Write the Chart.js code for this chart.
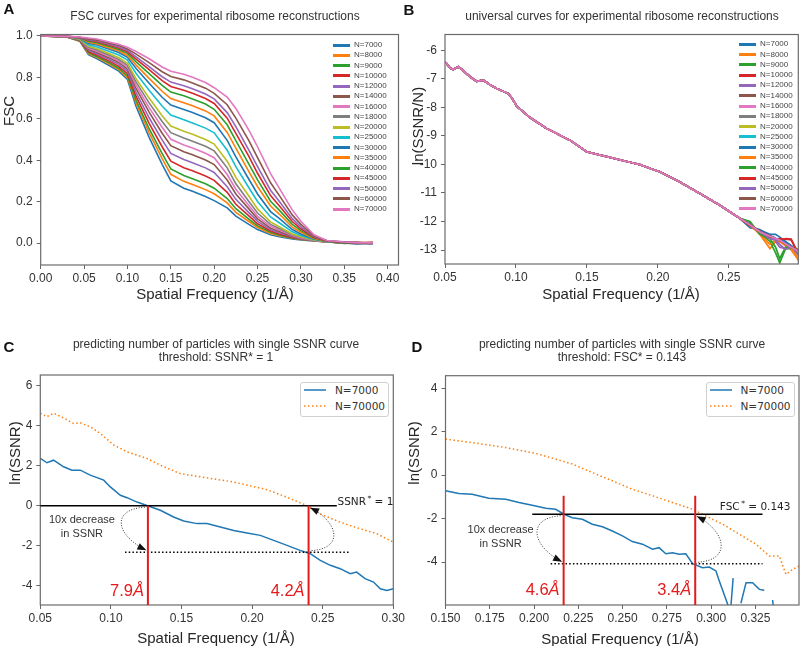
<!DOCTYPE html>
<html lang="en">
<head>
<meta charset="UTF-8">
<title>Ribosome FSC / SSNR curves</title>
<script src="https://cdn.jsdelivr.net/npm/chart.js"></script>
<style>
    body {
        margin: 0;
        width: 800px;
        height: 646px;
        position: relative;
        overflow: hidden;
        background: #fff;
        font-family: 'Liberation Sans', Arial, sans-serif;
        color: #262626;
    }
    canvas { position: absolute; left: 0; top: 0; }
    .t { position: absolute; white-space: nowrap; line-height: 1; transform: translate(-50%, -50%); }
    .title { font-size: 12px; color: #333; }
    .axt { font-size: 15px; }
    .rot { transform: translate(-50%, -50%) rotate(-90deg); }
    .letter { font-size: 15px; font-weight: bold; color: #111; }
    .lg { position: absolute; font-size: 8px; color: #444; line-height: 10px; white-space: nowrap; }
    .box { position: absolute; border: 1px solid #d0d0d0; border-radius: 3px; background: #fff; }
    .lg2 { position: absolute; font-family: 'DejaVu Sans', sans-serif; font-size: 10.5px; color: #333; line-height: 12px; white-space: nowrap; }
</style>
</head>
<body>
<canvas id="chartA" width="800" height="646"></canvas>
<canvas id="chartB" width="800" height="646"></canvas>
<canvas id="chartC" width="800" height="646"></canvas>
<canvas id="chartD" width="800" height="646"></canvas>

<div class="t letter" style="left:9px;top:8px">A</div>
<div class="t letter" style="left:409px;top:9px">B</div>
<div class="t letter" style="left:9px;top:346px">C</div>
<div class="t letter" style="left:417px;top:346px">D</div>

<div class="t title" style="left:215px;top:16px">FSC curves for experimental ribosome reconstructions</div>
<div class="t title" style="left:622px;top:16px">universal curves for experimental ribosome reconstructions</div>
<div class="t title" style="left:216px;top:344px">predicting number of particles with single SSNR curve</div>
<div class="t title" style="left:216px;top:357px">threshold: SSNR* = 1</div>
<div class="t title" style="left:622px;top:344px">predicting number of particles with single SSNR curve</div>
<div class="t title" style="left:622px;top:357px">threshold: FSC* = 0.143</div>

<div class="t axt" style="left:215px;top:293px">Spatial Frequency (1/Å)</div>
<div class="t axt" style="left:621px;top:293px">Spatial Frequency (1/Å)</div>
<div class="t axt" style="left:216px;top:637px">Spatial Frequency (1/Å)</div>
<div class="t axt" style="left:620px;top:638px">Spatial Frequency (1/Å)</div>
<div class="t axt rot" style="left:8px;top:111px">FSC</div>
<div class="t axt rot" style="left:417px;top:126px">ln(SSNR/N)</div>
<div class="t axt rot" style="left:14px;top:453px">ln(SSNR)</div>
<div class="t axt rot" style="left:413px;top:453px">ln(SSNR)</div>

<script>
// ---------- data ----------
const particleCounts = [7000, 8000, 9000, 10000, 12000, 14000, 16000, 18000, 20000, 25000, 30000, 35000, 40000, 45000, 50000, 60000, 70000];
const tab10 = ['#1f77b4', '#ff7f0e', '#2ca02c', '#d62728', '#9467bd', '#8c564b', '#e377c2', '#7f7f7f', '#bcbd22', '#17becf'];

// panel A: one row per frequency, columns follow particleCounts
const fscFreq = [0, 0.03, 0.045, 0.055, 0.065, 0.08, 0.09, 0.10, 0.11, 0.125, 0.14, 0.15, 0.165, 0.175, 0.19, 0.20,
                 0.215, 0.225, 0.24, 0.25, 0.265, 0.275, 0.29, 0.30, 0.315, 0.33, 0.35, 0.365, 0.383];
const fscRows = [
    [1, 1, 1, 1, 1, 1, 1, 1, 1, 1, 1, 1, 1, 1, 1, 1, 1],
    [0.995, 0.995, 0.995, 0.996, 0.996, 0.996, 0.996, 0.997, 0.997, 0.997, 0.997, 0.997, 0.998, 0.998, 0.998, 0.998, 0.998],
    [0.975, 0.976, 0.977, 0.979, 0.98, 0.981, 0.983, 0.984, 0.985, 0.987, 0.989, 0.99, 0.991, 0.992, 0.993, 0.994, 0.995],
    [0.91, 0.915, 0.919, 0.924, 0.93, 0.936, 0.94, 0.945, 0.95, 0.958, 0.965, 0.97, 0.975, 0.979, 0.982, 0.986, 0.99],
    [0.89, 0.896, 0.90, 0.907, 0.914, 0.92, 0.926, 0.932, 0.938, 0.947, 0.956, 0.961, 0.967, 0.972, 0.976, 0.98, 0.985],
    [0.855, 0.862, 0.868, 0.876, 0.884, 0.892, 0.899, 0.906, 0.913, 0.924, 0.934, 0.941, 0.948, 0.954, 0.959, 0.964, 0.97],
    [0.83, 0.838, 0.844, 0.853, 0.863, 0.872, 0.879, 0.887, 0.895, 0.908, 0.92, 0.928, 0.935, 0.942, 0.947, 0.954, 0.96],
    [0.79, 0.799, 0.807, 0.818, 0.829, 0.84, 0.849, 0.858, 0.868, 0.883, 0.897, 0.906, 0.916, 0.923, 0.93, 0.937, 0.945],
    [0.66, 0.676, 0.689, 0.708, 0.726, 0.745, 0.761, 0.777, 0.793, 0.819, 0.843, 0.859, 0.875, 0.888, 0.899, 0.912, 0.925],
    [0.51, 0.533, 0.552, 0.578, 0.605, 0.632, 0.654, 0.677, 0.70, 0.738, 0.772, 0.795, 0.818, 0.837, 0.852, 0.871, 0.89],
    [0.38, 0.408, 0.432, 0.465, 0.498, 0.53, 0.559, 0.587, 0.615, 0.662, 0.704, 0.733, 0.761, 0.784, 0.803, 0.827, 0.85],
    [0.30, 0.332, 0.358, 0.395, 0.433, 0.47, 0.501, 0.533, 0.565, 0.618, 0.666, 0.698, 0.729, 0.756, 0.777, 0.804, 0.83],
    [0.265, 0.298, 0.326, 0.364, 0.403, 0.441, 0.474, 0.507, 0.54, 0.595, 0.645, 0.678, 0.711, 0.738, 0.76, 0.788, 0.815],
    [0.25, 0.283, 0.311, 0.349, 0.388, 0.426, 0.459, 0.492, 0.525, 0.58, 0.63, 0.663, 0.696, 0.723, 0.745, 0.773, 0.80],
    [0.225, 0.258, 0.286, 0.324, 0.363, 0.401, 0.434, 0.467, 0.50, 0.555, 0.605, 0.638, 0.671, 0.698, 0.72, 0.748, 0.775],
    [0.205, 0.238, 0.265, 0.303, 0.341, 0.379, 0.412, 0.445, 0.478, 0.532, 0.581, 0.614, 0.646, 0.674, 0.696, 0.723, 0.75],
    [0.17, 0.194, 0.215, 0.245, 0.272, 0.304, 0.331, 0.363, 0.395, 0.448, 0.496, 0.534, 0.571, 0.603, 0.63, 0.668, 0.705],
    [0.13, 0.148, 0.166, 0.187, 0.211, 0.237, 0.26, 0.286, 0.317, 0.369, 0.416, 0.458, 0.494, 0.53, 0.562, 0.603, 0.65],
    [0.09, 0.104, 0.115, 0.131, 0.147, 0.165, 0.181, 0.201, 0.227, 0.267, 0.308, 0.345, 0.381, 0.418, 0.449, 0.495, 0.545],
    [0.065, 0.075, 0.083, 0.093, 0.105, 0.117, 0.129, 0.145, 0.165, 0.201, 0.237, 0.273, 0.305, 0.337, 0.369, 0.413, 0.465],
    [0.04, 0.046, 0.052, 0.058, 0.065, 0.072, 0.081, 0.09, 0.102, 0.126, 0.152, 0.179, 0.202, 0.229, 0.255, 0.291, 0.335],
    [0.03, 0.035, 0.039, 0.044, 0.05, 0.056, 0.063, 0.07, 0.079, 0.098, 0.119, 0.14, 0.159, 0.18, 0.202, 0.23, 0.265],
    [0.02, 0.023, 0.025, 0.027, 0.03, 0.033, 0.036, 0.04, 0.044, 0.054, 0.065, 0.077, 0.09, 0.104, 0.118, 0.136, 0.16],
    [0.015, 0.017, 0.018, 0.02, 0.021, 0.023, 0.025, 0.028, 0.03, 0.037, 0.044, 0.052, 0.06, 0.069, 0.078, 0.09, 0.105],
    [0.01, 0.011, 0.011, 0.012, 0.012, 0.013, 0.013, 0.014, 0.015, 0.017, 0.02, 0.022, 0.025, 0.028, 0.031, 0.035, 0.04],
    [0.005, 0.004, 0.006, 0.005, 0.006, 0.006, 0.007, 0.006, 0.007, 0.008, 0.008, 0.009, 0.01, 0.01, 0.011, 0.011, 0.012],
    [0.0, 0.003, -0.002, 0.002, 0.004, 0.001, 0.003, 0.0, 0.002, 0.004, 0.001, 0.005, 0.002, 0.003, 0.006, 0.004, 0.005],
    [-0.004, 0.002, 0.001, -0.002, 0.003, 0.0, 0.002, -0.003, 0.001, 0.002, -0.001, 0.003, 0.0, 0.002, 0.001, 0.003, 0.002],
    [0.002, -0.003, 0.0, 0.004, -0.002, 0.001, 0.003, -0.004, 0.002, 0.0, -0.002, 0.003, 0.001, -0.001, 0.002, 0.0, 0.001]
];
const fscXTicks = [0, 0.05, 0.10, 0.15, 0.20, 0.25, 0.30, 0.35, 0.40];
const fscYTicks = [0, 0.2, 0.4, 0.6, 0.8, 1.0];

// panel B: the curves coincide up to ~0.26, then split (tail rows follow particleCounts)
const ssnrHeadFreq = [0.050, 0.0512, 0.0535, 0.0558, 0.0594, 0.063, 0.0676, 0.0723, 0.077, 0.0815, 0.0864, 0.0946, 0.0975, 0.1005,
                      0.1099, 0.1216, 0.130, 0.138, 0.1498, 0.1639, 0.178, 0.1873, 0.1967, 0.2014, 0.2155, 0.2296, 0.2437, 0.2577];
const ssnrHead = [-6.42, -6.47, -6.62, -6.68, -6.58, -6.72, -6.93, -7.09, -7.05, -7.20, -7.34, -7.52, -7.70, -7.96,
                  -8.36, -8.74, -8.95, -9.15, -9.56, -9.73, -9.90, -10.01, -10.18, -10.26, -10.62, -11.02, -11.43, -11.89];
const ssnrTailFreq = [0.265, 0.2718, 0.279, 0.283, 0.2859, 0.290, 0.294, 0.2977, 0.2995];
const ssnrTailRows = [
    [-12.22, -12.1, -12.05, -12.15, -12.12, -12.1, -12.12, -12.13, -12.1, -12.08, -12.2, -12.15, -12.0, -12.14, -12.12, -12.1, -12.12],
    [-12.3, -12.45, -12.4, -12.35, -12.36, -12.38, -12.36, -12.35, -12.34, -12.4, -12.28, -12.42, -12.45, -12.33, -12.37, -12.35, -12.36],
    [-12.45, -12.95, -12.7, -12.55, -12.5, -12.55, -12.52, -12.5, -12.55, -12.5, -12.5, -12.8, -12.6, -12.55, -12.6, -12.5, -12.52],
    [-12.45, -12.7, -13.1, -12.6, -12.7, -12.6, -12.6, -12.6, -12.62, -12.58, -12.6, -12.65, -12.9, -12.62, -12.65, -12.6, -12.6],
    [-12.55, -12.65, -13.45, -12.7, -12.9, -12.65, -12.65, -12.66, -12.7, -12.7, -12.62, -12.7, -13.3, -12.6, -12.8, -12.66, -12.65],
    [-12.7, -12.8, -12.95, -12.6, -12.95, -12.8, -12.78, -12.8, -12.75, -12.78, -12.72, -12.85, -12.9, -12.62, -12.98, -12.8, -12.78],
    [-12.85, -13.0, -12.95, -12.62, -12.85, -12.9, -12.9, -12.92, -12.88, -12.9, -12.85, -12.95, -12.92, -12.65, -12.88, -12.9, -12.9],
    [-13.1, -13.25, -13.0, -13.0, -13.1, -13.0, -13.0, -13.02, -13.05, -13.0, -12.98, -13.2, -12.95, -13.0, -13.05, -13.0, -13.0],
    [-13.2, -13.4, -13.1, -13.1, -13.2, -13.1, -13.1, -13.12, -13.15, -13.1, -13.05, -13.35, -13.0, -13.15, -13.1, -13.1, -13.1]
];
const ssnrXTicks = [0.05, 0.10, 0.15, 0.20, 0.25];
const ssnrYTicks = [-13, -12, -11, -10, -9, -8, -7, -6];

// panel C: ln(SSNR) at SSNR* threshold
const cFreq7000 = [0.05, 0.0547, 0.0594, 0.0665, 0.0724, 0.0783, 0.0854, 0.0949, 0.0996, 0.1067, 0.1114, 0.1185, 0.1255, 0.135,
                   0.1444, 0.1515, 0.161, 0.168, 0.1775, 0.187, 0.1964, 0.2058, 0.2153, 0.2247, 0.234, 0.2412, 0.2483, 0.2554,
                   0.2624, 0.2695, 0.274, 0.280, 0.286, 0.2908, 0.2955, 0.30];
const cSsnr7000 = [2.37, 2.15, 2.28, 1.95, 1.78, 1.78, 1.53, 1.28, 0.94, 0.52, 0.40, 0.18, 0.01, -0.23,
                   -0.57, -0.77, -0.90, -0.90, -1.07, -1.24, -1.37, -1.49, -1.74, -1.99, -2.24, -2.41, -2.74, -2.99,
                   -3.16, -3.41, -3.33, -3.66, -3.83, -4.17, -4.25, -4.17];
const cFreq70000 = [0.05, 0.0547, 0.0594, 0.0665, 0.0736, 0.0783, 0.0854, 0.0925, 0.102, 0.1114, 0.1254, 0.135, 0.149, 0.163,
                    0.1866, 0.2106, 0.2248, 0.2389, 0.2483, 0.2624, 0.2766, 0.2884, 0.30];
const cSsnr70000 = [4.63, 4.46, 4.63, 4.40, 4.12, 4.15, 3.95, 3.62, 3.04, 2.70, 2.37, 2.03, 1.61, 1.45,
                    1.19, 0.80, 0.42, 0.0, -0.41, -0.83, -1.16, -1.41, -1.83];
const cXTicks = [0.05, 0.10, 0.15, 0.20, 0.25, 0.30];
const cYTicks = [-4, -2, 0, 2, 4, 6];

// panel D: ln(SSNR) at FSC* threshold (null = undefined log)
const dFreq7000 = [0.15, 0.1575, 0.165, 0.1745, 0.184, 0.1915, 0.2009, 0.2066, 0.2122, 0.2169, 0.2216, 0.2273, 0.2329, 0.2386,
                   0.2442, 0.2499, 0.2555, 0.2612, 0.2669, 0.2706, 0.2744, 0.2782, 0.282, 0.2857, 0.2895, 0.2951, 0.2989,
                   0.3027, 0.3046, 0.3109, 0.3124, 0.315, 0.3168, 0.3197, 0.3234, 0.3272, 0.33, 0.332, 0.3347, 0.3352];
const dSsnr7000 = [-0.72, -0.85, -0.88, -1.06, -1.11, -1.26, -1.42, -1.52, -1.57, -1.80, -1.96, -2.03, -2.26, -2.38,
                   -2.57, -2.80, -3.06, -3.18, -3.41, -3.34, -3.62, -3.57, -3.64, -3.62, -4.08, -4.26, -4.23,
                   -4.41, -4.88, -6.3, -4.74, null, -5.9, -4.95, -4.95, -5.26, -5.30, null, -5.75, -6.1];
const dFreq70000 = [0.15, 0.165, 0.184, 0.2009, 0.2122, 0.2216, 0.2329, 0.2442, 0.2555, 0.2669, 0.2782, 0.2895, 0.297,
                    0.3065, 0.3159, 0.3253, 0.3328, 0.3385, 0.3422, 0.346, 0.3498];
const dSsnr70000 = [1.66, 1.50, 1.27, 1.00, 0.74, 0.51, 0.12, -0.26, -0.65, -0.95, -1.26, -1.57, -1.88,
                    -2.26, -2.72, -3.18, -3.72, -3.72, -4.57, -4.34, -4.18];
const dXTicks = [0.15, 0.175, 0.20, 0.225, 0.25, 0.275, 0.30, 0.325];
const dYTicks = [-4, -2, 0, 2, 4];

// annotations (data units)
const cNotes = { level: 0, levelFrom: 0.05, levelTo: 0.26, drop: -2.33, dropFrom: 0.110, dropTo: 0.2695,
                 cross: [0.1262, 0.240], redTop: 0, res: ['7.9', '4.2'], resY: -4.29, bulge: [-35, 33],
                 noteX: 0.0795, noteY: [-0.73, -1.40], tag: ['SSNR', ' = 1'], tagX: 0.2605, tagDy: -3 };
const dNotes = { level: -1.80, levelFrom: 0.199, levelTo: 0.329, drop: -4.08, dropFrom: 0.2094, dropTo: 0.329,
                 cross: [0.2167, 0.291], redTop: -0.95, res: ['4.6', '3.4'], resY: -5.31, bulge: [-35, 34],
                 noteX: 0.1811, noteY: [-2.54, -3.18], tag: ['FSC', ' = 0.143'], tagX: 0.3049, tagDy: -7 };

// ---------- helpers ----------
const tickFont = { family: "'Liberation Sans', Arial, sans-serif", size: 12 };

function axis(isX, min, max, ticks, digits) {
    return {
        type: 'linear', min: min, max: max,
        afterBuildTicks: s => { s.ticks = ticks.map(v => ({ value: v })); },
        afterFit: s => {
            if (isX) { s.height = 30; s.paddingLeft = 0; s.paddingRight = 0; }
            else { s.width = 40; s.paddingTop = 0; s.paddingBottom = 0; }
        },
        ticks: { autoSkip: false, maxRotation: 0, padding: isX ? 2 : 4, color: '#333', font: tickFont,
                 callback: v => v.toFixed(digits) },
        grid: { drawOnChartArea: false, tickLength: 4, color: '#666', lineWidth: 1 },
        border: { display: false }
    };
}

const framePlugin = {
    id: 'frame',
    afterDatasetsDraw(chart) {
        const { ctx, chartArea: a } = chart;
        ctx.save();
        ctx.strokeStyle = '#6b6b6b';
        ctx.lineWidth = 1.2;
        ctx.strokeRect(a.left, a.top, a.right - a.left, a.bottom - a.top);
        ctx.restore();
    }
};

function makeChart(id, area, datasets, xAxis, yAxis, extra) {
    return new Chart(document.getElementById(id), {
        type: 'line',
        data: { datasets: datasets },
        options: {
            responsive: false, animation: false, devicePixelRatio: 1, events: [],
            layout: { padding: { left: area.left - 40, top: area.top, right: 800 - area.right, bottom: 646 - area.bottom - 30 } },
            scales: { x: xAxis, y: yAxis },
            elements: { point: { radius: 0 }, line: { tension: 0, fill: false } },
            plugins: { legend: { display: false }, tooltip: { enabled: false } }
        },
        plugins: [framePlugin].concat(extra || [])
    });
}

function seg(ctx, x0, y0, x1, y1) {
    ctx.beginPath(); ctx.moveTo(x0, y0); ctx.lineTo(x1, y1); ctx.stroke();
}

// dotted arc from (x, y0) to (x, y1) bulging sideways by k px, arrow head at the end
function arcArrow(ctx, x, y0, y1, k) {
    const s = Math.sign(k), d = y1 - y0, v = Math.sign(d);
    const sx = x + s * 3, sy = y0 + v * 1.5;
    const ex = x + s * 1.5, ey = y1 - v * 2;
    const c1x = sx + k, c1y = sy + d * 0.05;
    const c2x = ex + k * 0.85, c2y = ey - d * 0.3;
    ctx.save();
    ctx.strokeStyle = '#333'; ctx.lineWidth = 1; ctx.setLineDash([1, 1.6]);
    ctx.beginPath(); ctx.moveTo(sx, sy); ctx.bezierCurveTo(c1x, c1y, c2x, c2y, ex, ey); ctx.stroke();
    ctx.setLineDash([]);
    const ang = Math.atan2(ey - c2y, ex - c2x), L = 9, W = 3.5;
    const bx = ex - L * Math.cos(ang), by = ey - L * Math.sin(ang);
    ctx.fillStyle = '#111';
    ctx.beginPath();
    ctx.moveTo(ex, ey);
    ctx.lineTo(bx + W * Math.sin(ang), by - W * Math.cos(ang));
    ctx.lineTo(bx - W * Math.sin(ang), by + W * Math.cos(ang));
    ctx.closePath(); ctx.fill();
    ctx.restore();
}

function notesPlugin(n) {
    return {
        id: 'notes',
        afterDatasetsDraw(chart) {
            const { ctx, chartArea: a } = chart;
            const X = v => chart.scales.x.getPixelForValue(v);
            const Y = v => chart.scales.y.getPixelForValue(v);
            ctx.save();
            ctx.strokeStyle = '#000'; ctx.lineWidth = 1.5;
            seg(ctx, X(n.levelFrom), Y(n.level), X(n.levelTo), Y(n.level));
            ctx.setLineDash([1.5, 2.2]);
            seg(ctx, X(n.dropFrom), Y(n.drop), X(n.dropTo), Y(n.drop));
            ctx.setLineDash([]);
            ctx.strokeStyle = '#e41a1c'; ctx.lineWidth = 2;
            n.cross.forEach(c => seg(ctx, X(c), Y(n.redTop), X(c), a.bottom));

            arcArrow(ctx, X(n.cross[0]), Y(n.level), Y(n.drop), n.bulge[0]);
            arcArrow(ctx, X(n.cross[1]), Y(n.drop), Y(n.level), n.bulge[1]);

            // resolution labels
            ctx.fillStyle = '#e41a1c'; ctx.textBaseline = 'middle'; ctx.textAlign = 'right';
            n.cross.forEach((c, i) => {
                const xr = X(c) - 4, yy = Y(n.resY);
                ctx.font = "italic 16.5px 'Liberation Sans', Arial";
                const w = ctx.measureText('Å').width;
                ctx.fillText('Å', xr, yy);
                ctx.font = "16.5px 'Liberation Sans', Arial";
                ctx.fillText(n.res[i], xr - w, yy);
            });

            // "10x decrease in SSNR"
            ctx.fillStyle = '#333'; ctx.textAlign = 'center';
            ctx.font = "11px 'Liberation Sans', Arial";
            ctx.fillText('10x decrease', X(n.noteX), Y(n.noteY[0]));
            ctx.fillText('in SSNR', X(n.noteX), Y(n.noteY[1]));

            // threshold tag with superscript star
            ctx.fillStyle = '#222'; ctx.textAlign = 'left';
            let tx = X(n.tagX);
            const ty = Y(n.level) + n.tagDy;
            ctx.font = "10.5px 'DejaVu Sans'";
            ctx.fillText(n.tag[0], tx, ty);
            tx += ctx.measureText(n.tag[0]).width + 1.5;
            ctx.font = "7.5px 'DejaVu Sans'";
            ctx.fillText('*', tx, ty - 3.5);
            tx += ctx.measureText('*').width;
            ctx.font = "10.5px 'DejaVu Sans'";
            ctx.fillText(n.tag[1], tx, ty);
            ctx.restore();
        }
    };
}

function pairs(xs, ys) {
    return xs.map((x, k) => ({ x: x, y: ys[k] }));
}

// ---------- panel A ----------
const fscSets = particleCounts.map((n, i) => ({
    label: 'N=' + n,
    data: fscFreq.map((f, k) => ({ x: f, y: fscRows[k][i] })),
    borderColor: tab10[i % 10], borderWidth: 1.6, order: particleCounts.length - i
}));
makeChart('chartA', { left: 40.7, top: 34.5, right: 398.5, bottom: 265 }, fscSets,
    axis(true, 0, 0.4125, fscXTicks, 2), axis(false, -0.106, 1.007, fscYTicks, 1));

// ---------- panel B ----------
const ssnrSets = particleCounts.map((n, i) => ({
    label: 'N=' + n,
    data: pairs(ssnrHeadFreq, ssnrHead).concat(ssnrTailFreq.map((f, k) => ({ x: f, y: ssnrTailRows[k][i] }))),
    borderColor: tab10[i % 10], borderWidth: 1.7, order: particleCounts.length - i
}));
makeChart('chartB', { left: 445, top: 34.5, right: 798.3, bottom: 264 }, ssnrSets,
    axis(true, 0.05, 0.299, ssnrXTicks, 2), axis(false, -13.49, -5.45, ssnrYTicks, 0));

// ---------- panel C ----------
makeChart('chartC', { left: 40.3, top: 375, right: 393.3, bottom: 605 }, [
    { label: 'N=7000', data: pairs(cFreq7000, cSsnr7000), borderColor: '#1f77b4', borderWidth: 1.5 },
    { label: 'N=70000', data: pairs(cFreq70000, cSsnr70000), borderColor: '#ff7f0e', borderWidth: 1.5, borderDash: [1.5, 2.5] }
], axis(true, 0.05, 0.30, cXTicks, 2), axis(false, -4.98, 6.55, cYTicks, 0), [notesPlugin(cNotes)]);

// ---------- panel D ----------
makeChart('chartD', { left: 445.5, top: 375.7, right: 799, bottom: 605 }, [
    { label: 'N=7000', data: pairs(dFreq7000, dSsnr7000), borderColor: '#1f77b4', borderWidth: 1.5, spanGaps: false },
    { label: 'N=70000', data: pairs(dFreq70000, dSsnr70000), borderColor: '#ff7f0e', borderWidth: 1.5, borderDash: [1.5, 2.5] }
], axis(true, 0.15, 0.3496, dXTicks, 3), axis(false, -5.98, 4.58, dYTicks, 0), [notesPlugin(dNotes)]);

// ---------- legends ----------
function manyLegend(lineLeft, textLeft, firstY, step) {
    particleCounts.forEach((n, i) => {
        const y = firstY + i * step;
        const sw = document.createElement('div');
        sw.style.cssText = 'position:absolute;left:' + lineLeft + 'px;top:' + (y - 1.5) + 'px;width:17px;height:3px;background:' + tab10[i % 10];
        document.body.appendChild(sw);
        const t = document.createElement('div');
        t.className = 'lg';
        t.textContent = 'N=' + n;
        t.style.left = textLeft + 'px';
        t.style.top = (y - 5) + 'px';
        document.body.appendChild(t);
    });
}
manyLegend(333, 354, 45, 10.25);
manyLegend(739, 760, 44.3, 10.29);

function pairLegend(left, top) {
    const box = document.createElement('div');
    box.className = 'box';
    box.style.cssText += 'left:' + left + 'px;top:' + top + 'px;width:87px;height:33px;';
    document.body.appendChild(box);
    const rows = [['N=7000', '#1f77b4', ''], ['N=70000', '#ff7f0e', '1.5 2.5']];
    rows.forEach((r, i) => {
        const y = top + 8.5 + i * 16;
        const s = document.createElementNS('http://www.w3.org/2000/svg', 'svg');
        s.setAttribute('width', '22'); s.setAttribute('height', '4');
        s.style.cssText = 'position:absolute;left:' + (left + 4) + 'px;top:' + (y - 2) + 'px';
        s.innerHTML = '<line x1="0" y1="2" x2="22" y2="2" stroke="' + r[1] + '" stroke-width="1.5"' +
            (r[2] ? ' stroke-dasharray="' + r[2] + '"' : '') + '/>';
        document.body.appendChild(s);
        const t = document.createElement('div');
        t.className = 'lg2';
        t.textContent = r[0];
        t.style.left = (left + 35) + 'px';
        t.style.top = (y - 6) + 'px';
        document.body.appendChild(t);
    });
}
pairLegend(300, 381.5);
pairLegend(705.5, 381.5);
</script>
</body>
</html>
